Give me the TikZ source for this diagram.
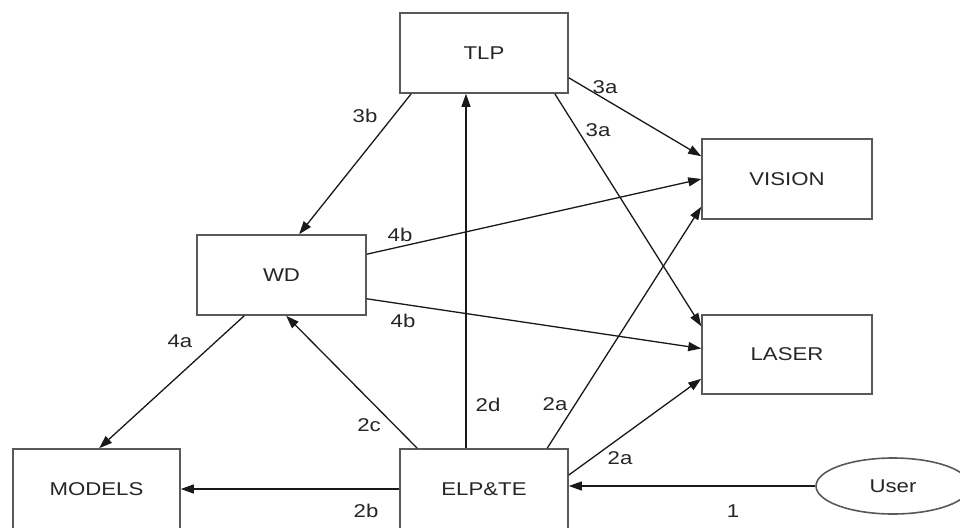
\documentclass[tikz,border=0pt]{standalone}
\usepackage{fontspec}
\setmainfont[FakeStretch=1.2]{Liberation Sans}
\usetikzlibrary{arrows.meta,shapes.geometric}
\begin{document}
\begin{tikzpicture}[x=1pt,y=-1pt,
  every node/.style={font=\fontsize{18.5}{20}\selectfont, text=black!85},
  box/.style={draw=black!65, line width=1.6pt, rectangle, minimum width=#1, minimum height=80pt, inner sep=0pt},
  box/.default=168pt,
  conn/.style={draw=black!90, line width=1.3pt, -{Triangle[length=13pt,width=9pt]}},
  lab/.style={inner sep=0pt}]
\useasboundingbox[fill=white] (0,0) rectangle (960,527);
\node[box=168pt] (tlp) at (484,53) {TLP};
\node[box=170pt] (vision) at (787,179) {VISION};
\node[box=170pt, minimum height=79pt] (laser) at (787,354.5) {LASER};
\node[box=169pt] (wd) at (281.5,275) {WD};
\node[box=167pt] (models) at (96.5,489) {MODELS};
\node[box=168pt] (elp) at (484,489) {ELP\&TE};
\node[draw=black!65, line width=1.6pt, ellipse, minimum width=154pt, minimum height=56pt, inner sep=0pt] (user) at (893,486) {User};
% connectors
\draw[conn] (user.west) -- (user.west -| elp.east);
\draw[conn] ([yshift=14pt]elp.east) -- ([yshift=16pt]laser.south west);
\draw[conn] ([xshift=148pt]elp.north west) -- ([yshift=13pt]vision.south west);
\draw[conn] (elp.west) -- (models.east);
\draw[conn] ([xshift=18pt]elp.north west) -- ([xshift=90pt]wd.south west);
\draw[conn] ([xshift=-18pt]elp.north) -- ([xshift=-18pt]tlp.south);
\draw[conn] ([yshift=16pt]tlp.south east) -- ([yshift=-18pt]vision.north west);
\draw[conn] ([xshift=-14pt]tlp.south east) -- ([yshift=-12pt]laser.north west);
\draw[conn] ([xshift=12pt]tlp.south west) -- ([xshift=103pt]wd.north west);
\draw[conn] ([xshift=48pt]wd.south west) -- ([xshift=87pt]models.north west);
\draw[conn] ([yshift=-20pt]wd.north east) -- (vision.west);
\draw[conn] ([yshift=17pt]wd.south east) -- ([yshift=6pt]laser.west);
% labels
\node[lab] (l1) at (733,511) {1};
\node[lab] (l2a1) at (620,458) {2a};
\node[lab] (l2a2) at (555,404) {2a};
\node[lab] (l2b) at (366,511) {2b};
\node[lab] (l2c) at (369,425) {2c};
\node[lab] (l2d) at (488,405) {2d};
\node[lab] (l3a1) at (605,87) {3a};
\node[lab] (l3a2) at (598,130) {3a};
\node[lab] (l3b) at (365,116) {3b};
\node[lab] (l4a) at (180,341) {4a};
\node[lab] (l4b1) at (400,235) {4b};
\node[lab] (l4b2) at (403,321) {4b};
\end{tikzpicture}
\end{document}
